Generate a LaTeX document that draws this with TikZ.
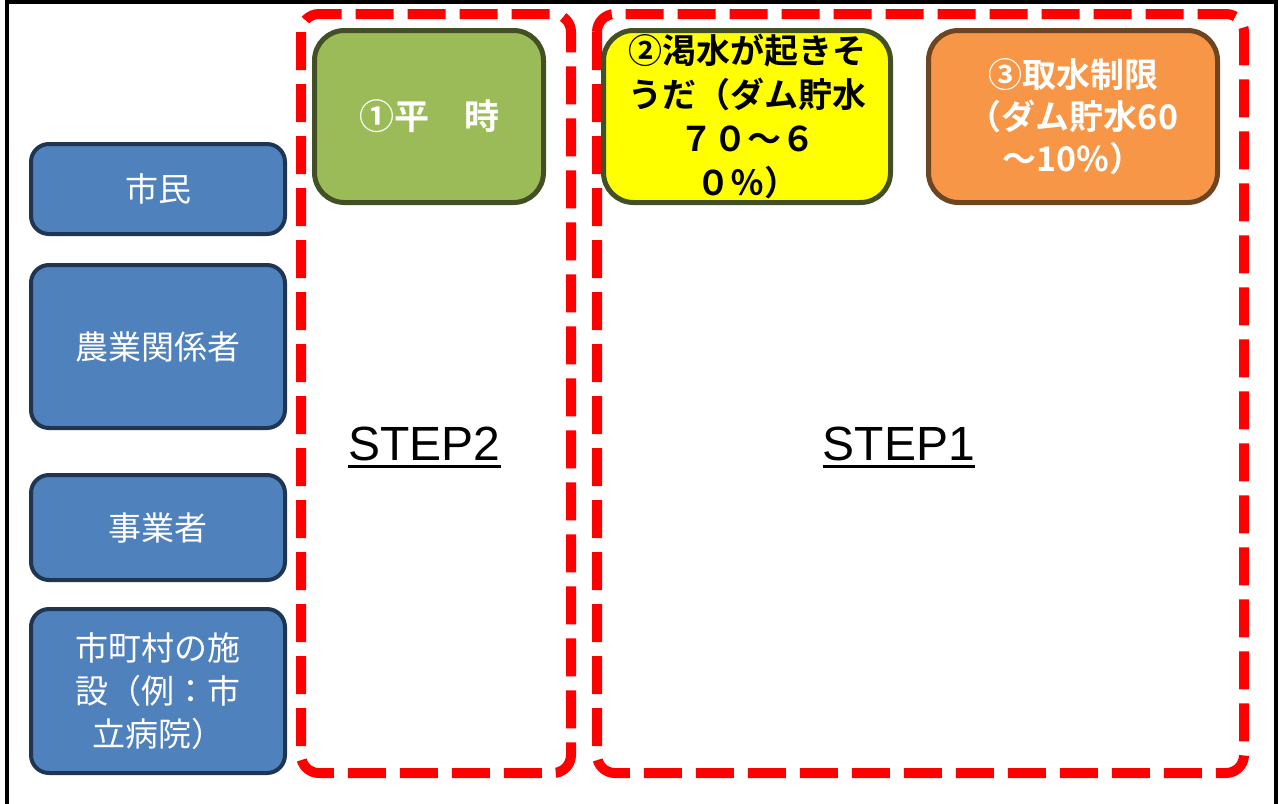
\documentclass[tikz,border=0pt]{standalone}
\usepackage{fontspec}
\setmainfont{Liberation Sans}
\newfontfamily\jp{Noto Sans CJK JP}
\newfontfamily\jpb{Noto Sans CJK JP Bold}
\definecolor{boxblue}{HTML}{4F81BD}
\definecolor{boxnavy}{HTML}{1F3552}
\definecolor{boxgreen}{HTML}{9BBB59}
\definecolor{boxolive}{HTML}{435025}
\definecolor{boxorange}{HTML}{F79646}
\definecolor{boxbrown}{HTML}{6D4520}
\definecolor{boxyellow}{HTML}{FFFF00}
\begin{document}
\begin{tikzpicture}[x=1pt,y=-1pt,
  actor/.style={draw=boxnavy, fill=boxblue, line width=4pt, rounded corners=18pt,
    minimum width=254pt, text=white, align=center, inner sep=0pt,
    font=\jp\fontsize{33}{43}\selectfont},
  phase/.style={line width=5pt, rounded corners=30pt, align=center, inner sep=0pt,
    font=\jpb\fontsize{35}{43}\selectfont},
  stepzone/.style={draw=red, line width=10pt, rounded corners=18pt, dash pattern=on 38pt off 14pt},
  steplabel/.style={inner sep=0pt, font=\fontsize{48}{56}\selectfont}
]
\useasboundingbox (0,0) rectangle (1281,803);
\clip (0,0) rectangle (1281,803);
\fill[white] (0,0) rectangle (1281,803);
% outer frame
\draw[line width=4pt] (7,820) -- (7,2) -- (1275.5,2) -- (1275.5,820);

% dashed step zones
\draw[stepzone] (301,14) rectangle (571,773);
\draw[stepzone] (597,14) rectangle (1244,773);

% actors
\node[actor, minimum height=90pt]  (citizen) at (158,189)   {市民};
\node[actor, minimum height=163pt] (farm)    at (158,346.5) {農業関係者};
\node[actor, minimum height=105pt] (biz)     at (158,527.5) {事業者};
\node[actor, minimum height=164pt] (muni)    at (158,691)   {市町村の施\\設（例：市\\立病院）};

% phases
\node[phase, draw=boxolive, fill=boxgreen, text=white, minimum width=229pt, minimum height=172pt]
  (p1) at (429,116.5) {①平　時};
\node[phase, draw=boxolive, fill=boxyellow, text=black, minimum width=287pt, minimum height=172pt,
  font=\jpb\fontsize{34}{44}\selectfont]
  (p2) at (747,116.5) {②渇水が起きそ\\うだ（ダム貯水\\７０～６\\０％）};
\node[phase, draw=boxbrown, fill=boxorange, text=white, minimum width=289pt, minimum height=172pt,
  font=\jpb\fontsize{34}{42}\selectfont]
  (p3) at (1073,116.5) {③取水制限\\（ダム貯水60\\～10\%）};

% step labels
\node[steplabel, anchor=base] (s2) at (424.5,460) {STEP2};
\node[steplabel, anchor=base] (s1) at (899,460) {STEP1};
\draw[line width=3pt] ([yshift=-6pt]s2.base west) -- ([yshift=-6pt]s2.base east);
\draw[line width=3pt] ([yshift=-6pt]s1.base west) -- ([yshift=-6pt]s1.base east);
\end{tikzpicture}
\end{document}
